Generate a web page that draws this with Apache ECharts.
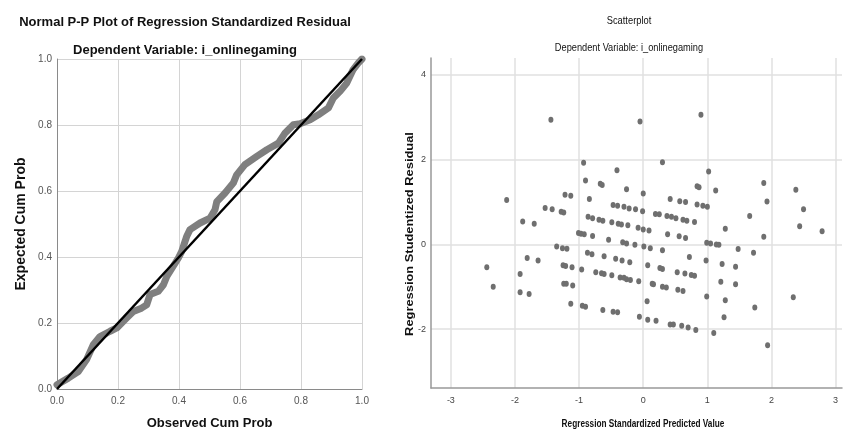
<!DOCTYPE html>
<html>
<head>
<meta charset="utf-8">
<script src="https://cdn.jsdelivr.net/npm/echarts@6/dist/echarts.min.js"></script>
<style>html,body{margin:0;padding:0;background:#fff}#c{width:843px;height:430px}</style>
</head>
<body>
<div id="c"></div>
<script>
// P-P plot: observed vs expected cumulative probability
var ppObserved = [0.0, 0.037, 0.07, 0.097, 0.119, 0.141, 0.174, 0.196, 0.228, 0.25, 0.277, 0.294, 0.305, 0.332, 0.349, 0.36, 0.381, 0.398, 0.409, 0.425, 0.436, 0.469, 0.502, 0.518, 0.524, 0.551, 0.578, 0.589, 0.616, 0.655, 0.688, 0.726, 0.748, 0.775, 0.797, 0.83, 0.857, 0.89, 0.906, 0.928, 0.95, 0.955, 0.971, 0.988, 1.0];
var ppExpected = [0.013, 0.033, 0.053, 0.089, 0.134, 0.159, 0.175, 0.185, 0.215, 0.235, 0.245, 0.255, 0.286, 0.296, 0.316, 0.341, 0.372, 0.397, 0.417, 0.462, 0.483, 0.503, 0.518, 0.543, 0.568, 0.594, 0.624, 0.649, 0.68, 0.705, 0.725, 0.745, 0.776, 0.801, 0.804, 0.816, 0.831, 0.852, 0.882, 0.902, 0.927, 0.937, 0.968, 0.988, 1.0];
var refLine = [[0, 0], [1, 1]];

// Scatterplot: standardized predicted value vs studentized residual
var scatterX = [-1.44,-0.05,0.90,-0.93,0.30,-0.41,1.02,-0.90,-0.67,-0.64,-0.26,0.84,0.87,1.13,1.88,2.38,-2.13,-1.22,-1.13,-0.84,0.00,0.42,0.57,0.66,1.93,-1.53,-1.42,-1.28,-1.24,-0.47,-0.40,-0.30,-0.22,-0.12,0.84,0.93,1.00,2.50,-1.88,-1.70,-0.86,-0.79,-0.69,-0.63,-0.49,-0.39,-0.34,-0.24,-0.01,0.19,0.25,0.37,0.44,0.51,0.62,0.68,0.80,1.66,2.44,2.79,-0.08,0.00,0.09,0.38,0.56,0.66,1.28,1.88,-1.01,-0.97,-0.92,-0.79,-0.54,-0.32,-0.26,-0.13,0.01,0.11,0.30,0.99,1.05,1.14,1.18,1.48,1.72,-1.35,-1.26,-1.19,-1.81,-1.64,-0.87,-0.80,-0.61,-0.43,-0.33,-0.21,0.07,0.26,0.30,0.72,0.98,1.23,1.44,-2.44,-1.25,-1.21,-1.11,-0.96,-0.74,-0.65,-0.61,-0.49,-0.36,-0.30,-0.26,-0.20,-0.07,0.53,0.65,0.75,0.80,0.14,0.16,0.30,0.36,0.54,0.62,1.21,1.44,-1.92,-2.34,-1.92,-1.78,-1.24,-1.20,-1.10,0.99,1.28,2.34,0.06,1.74,-1.13,-0.95,-0.90,-0.63,-0.47,-0.40,-0.06,0.07,0.20,0.42,0.47,0.60,0.70,0.82,1.26,1.10,1.94];
var scatterY = [2.94,2.90,3.06,1.93,1.94,1.75,1.72,1.51,1.43,1.40,1.30,1.37,1.35,1.27,1.45,1.29,1.05,1.17,1.15,1.07,1.20,1.07,1.02,1.00,1.01,0.86,0.83,0.77,0.75,0.93,0.91,0.89,0.85,0.83,0.94,0.91,0.89,0.83,0.54,0.49,0.65,0.62,0.58,0.56,0.52,0.49,0.47,0.45,0.78,0.72,0.71,0.67,0.65,0.62,0.58,0.56,0.53,0.67,0.43,0.31,0.39,0.35,0.33,0.24,0.19,0.15,0.37,0.18,0.27,0.25,0.24,0.20,0.11,0.05,0.02,-0.01,-0.05,-0.09,-0.14,0.04,0.02,0.00,-0.01,-0.11,-0.20,-0.05,-0.09,-0.10,-0.32,-0.38,-0.20,-0.23,-0.28,-0.34,-0.38,-0.42,-0.49,-0.56,-0.58,-0.30,-0.38,-0.46,-0.53,-0.54,-0.49,-0.51,-0.54,-0.59,-0.66,-0.68,-0.70,-0.73,-0.78,-0.79,-0.82,-0.84,-0.87,-0.66,-0.69,-0.72,-0.74,-0.93,-0.94,-1.00,-1.02,-1.07,-1.10,-0.88,-0.94,-0.70,-1.00,-1.13,-1.17,-0.93,-0.93,-0.97,-1.23,-1.32,-1.25,-1.34,-1.49,-1.40,-1.45,-1.47,-1.55,-1.59,-1.60,-1.71,-1.78,-1.80,-1.89,-1.89,-1.92,-1.96,-2.02,-1.72,-2.09,-2.38];
var scatterXTicks = [-3, -2, -1, 0, 1, 2, 3];
var scatterYTicks = [-2, 0, 2, 4];

var ppData = ppObserved.map(function (x, i) { return [x, ppExpected[i]]; });
var scData = scatterX.map(function (x, i) { return [x, scatterY[i]]; });

var SANS = '"Liberation Sans", Arial, sans-serif';

var chart = echarts.init(document.getElementById('c'));
chart.setOption({
  animation: false,
  backgroundColor: '#ffffff',
  title: [
    { text: 'Normal P-P Plot of Regression Standardized Residual', left: 180, top: 11, textAlign: 'center',
      textStyle: { fontFamily: SANS, fontSize: 13, fontWeight: 'bold', color: '#111' } },
    { text: 'Dependent Variable: i_onlinegaming', left: 180, top: 39, textAlign: 'center',
      textStyle: { fontFamily: SANS, fontSize: 13, fontWeight: 'bold', color: '#111' } }
  ],
  graphic: [
    { type: 'text', x: 629, y: 21, scaleX: 0.85, style: { text: 'Scatterplot', font: '11px ' + SANS, fill: '#111', align: 'center', verticalAlign: 'middle' } },
    { type: 'text', x: 629, y: 48, scaleX: 0.84, style: { text: 'Dependent Variable: i_onlinegaming', font: '11px ' + SANS, fill: '#111', align: 'center', verticalAlign: 'middle' } },
    { type: 'text', x: 643, y: 424, scaleX: 0.75, style: { text: 'Regression Standardized Predicted Value', font: 'bold 11px ' + SANS, fill: '#111', align: 'center', verticalAlign: 'middle' } },
    { type: 'text', x: 410, y: 234, rotation: Math.PI / 2, scaleX: 1.17, style: { text: 'Regression Studentized Residual', font: 'bold 11px ' + SANS, fill: '#111', align: 'center', verticalAlign: 'middle' } }
  ],
  grid: [
    { left: 57, top: 59, width: 305, height: 330, outerBoundsMode: 'none', containLabel: false },
    { left: 431, top: 58, width: 411, height: 330, outerBoundsMode: 'none', containLabel: false }
  ],
  xAxis: [
    { type: 'value', gridIndex: 0, min: 0, max: 1, interval: 0.2,
      name: 'Observed Cum Prob', nameLocation: 'middle', nameGap: 28,
      nameTextStyle: { fontFamily: SANS, fontSize: 13, fontWeight: 'bold', color: '#111' },
      axisLine: { show: true, onZero: false, lineStyle: { color: '#8a8a8a', width: 1 } },
      axisTick: { show: false },
      axisLabel: { fontFamily: SANS, fontSize: 10, color: '#555', margin: 7,
        formatter: function (v) { return v.toFixed(1); } },
      splitLine: { show: true, lineStyle: { color: '#d4d4d4', width: 1 } } },
    { type: 'value', gridIndex: 1, min: -3.31, max: 3.1,
      axisLine: { show: true, onZero: false, lineStyle: { color: '#999', width: 1.5 } },
      axisTick: { show: false, customValues: scatterXTicks },
      axisLabel: { fontFamily: SANS, fontSize: 9, color: '#444', margin: 8, customValues: scatterXTicks },
      splitLine: { show: true, lineStyle: { color: '#e0e0e0', width: 1.5 } } }
  ],
  yAxis: [
    { type: 'value', gridIndex: 0, min: 0, max: 1, interval: 0.2,
      name: 'Expected Cum Prob', nameLocation: 'middle', nameGap: 29,
      nameTextStyle: { fontFamily: SANS, fontSize: 14, fontWeight: 'bold', color: '#111' },
      axisLine: { show: true, onZero: false, lineStyle: { color: '#8a8a8a', width: 1 } },
      axisTick: { show: false },
      axisLabel: { fontFamily: SANS, fontSize: 10, color: '#555', margin: 5,
        formatter: function (v) { return v.toFixed(1); } },
      splitLine: { show: true, lineStyle: { color: '#d4d4d4', width: 1 } } },
    { type: 'value', gridIndex: 1, min: -3.39, max: 4.4,
      axisLine: { show: true, onZero: false, lineStyle: { color: '#999', width: 1.5 } },
      axisTick: { show: false, customValues: scatterYTicks },
      axisLabel: { fontFamily: SANS, fontSize: 9, color: '#444', margin: 5, customValues: scatterYTicks },
      splitLine: { show: true, lineStyle: { color: '#e0e0e0', width: 1.5 } } }
  ],
  series: [
    { type: 'line', xAxisIndex: 0, yAxisIndex: 0, data: ppData, showSymbol: false, smooth: false,
      lineStyle: { color: '#7f7f7f', width: 7, cap: 'round', join: 'round' }, z: 2 },
    { type: 'line', xAxisIndex: 0, yAxisIndex: 0, data: refLine, showSymbol: false,
      lineStyle: { color: '#000', width: 2.5 }, z: 3 },
    { type: 'scatter', xAxisIndex: 1, yAxisIndex: 1, data: scData, symbol: 'circle', symbolSize: [5, 6],
      itemStyle: { color: '#6f6f6f', opacity: 1 } }
  ]
});
</script>
</body>
</html>
